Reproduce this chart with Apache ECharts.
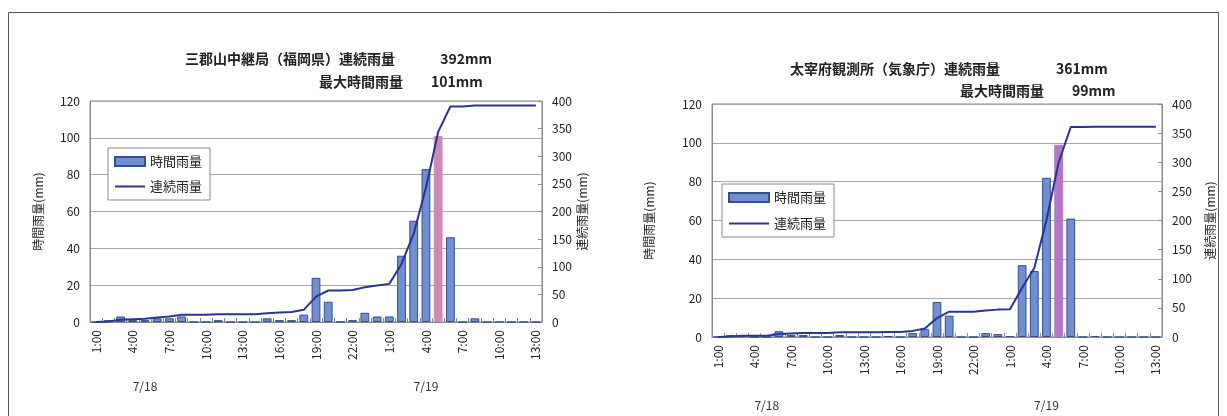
<!DOCTYPE html>
<html>
<head>
<meta charset="utf-8">
<script src="https://cdn.jsdelivr.net/npm/echarts@6/dist/echarts.min.js"></script>
<style>
  html, body { margin: 0; padding: 0; background: #fff; }
  #chart { width: 1227px; height: 416px; }
</style>
</head>
<body>
<div id="chart"></div>
<script>
// Hourly categories: 7/18 1:00 .. 24:00, then 7/19 1:00 .. 13:00
const hours = [
  '1:00','2:00','3:00','4:00','5:00','6:00','7:00','8:00','9:00','10:00','11:00','12:00',
  '13:00','14:00','15:00','16:00','17:00','18:00','19:00','20:00','21:00','22:00','23:00','24:00',
  '1:00','2:00','3:00','4:00','5:00','6:00','7:00','8:00','9:00','10:00','11:00','12:00','13:00'
];

// 三郡山中継局 (mm)
const sangunHourly = [0,1,3,1,1,2,2,3,0,0,1,0,0,0,2,1,1,4,24,11,0,1,5,3,3,36,55,83,101,46,0,2,0,0,0,0,0];
const sangunTotal  = [0,1,4,5,6,8,10,13,13,13,14,14,14,14,16,17,18,22,46,57,57,58,63,66,69,105,160,243,344,390,390,392,392,392,392,392,392];

// 太宰府観測所 (mm)
const dazaifuHourly = [0,1,1,0,0,3,1,1,0,0,1,0,0,0,0.5,0,2,4,18,11,0,0,2,1.5,0.5,37,34,82,99,61,0,0.5,0,0,0,0,0];
const dazaifuTotal  = [0,1,2,2,2,5,6,7,7,7,8,8,8,8,8.5,8.5,10.5,14.5,32.5,43.5,43.5,43.5,45.5,47,47.5,84.5,118.5,200.5,299.5,360.5,360.5,361,361,361,361,361,361];

// Day captions under the hour labels, and the category each one sits under
const dayLabels = ['7/18', '7/19'];
const dayLabelIndex = [4, 27];

const FONT = '"Noto Sans CJK JP", "Noto Sans", sans-serif';
const BAR = '#6f8fd0';
const BAR_EDGE = '#34508c';
const LINE = '#2a3590';
const GRID_LINE = '#a8a8a8';

function barData(values, peakColor) {
  const peak = values.indexOf(Math.max(...values));
  return values.map((v, i) => i === peak
    ? { value: v, itemStyle: { color: peakColor, borderColor: peakColor } }
    : v);
}

function hourAxis(gridIndex) {
  return {
    type: 'category', gridIndex, data: hours, boundaryGap: true,
    axisLine: { show: true, lineStyle: { color: '#8a8a8a' } },
    axisTick: { show: true, inside: true, interval: 0, length: 4, lineStyle: { color: '#8a8a8a' } },
    axisLabel: { interval: 2, rotate: 90, fontSize: 12, color: '#222', fontFamily: FONT, margin: 8 },
    splitLine: { show: false }
  };
}

function dayAxis(gridIndex, offset) {
  return {
    type: 'category', gridIndex, data: hours, position: 'bottom', offset,
    axisLine: { show: false }, axisTick: { show: false }, splitLine: { show: false },
    axisLabel: {
      interval: 0, fontSize: 12, color: '#333', fontFamily: FONT,
      formatter: (v, i) => {
        const k = dayLabelIndex.indexOf(i);
        return k >= 0 ? dayLabels[k] : '';
      }
    }
  };
}

function leftAxis(gridIndex, nameGap) {
  return {
    type: 'value', gridIndex, min: 0, max: 120, interval: 20, position: 'left',
    name: '時間雨量(mm)', nameLocation: 'middle', nameRotate: 90, nameGap,
    nameTextStyle: { fontSize: 12, color: '#222', fontFamily: FONT },
    axisLine: { show: true, lineStyle: { color: '#8a8a8a' } },
    axisTick: { show: false },
    axisLabel: { fontSize: 12, color: '#222', fontFamily: FONT, margin: 10 },
    splitLine: { show: true, lineStyle: { color: GRID_LINE, width: 1 } }
  };
}

function rightAxis(gridIndex, nameGap) {
  return {
    type: 'value', gridIndex, min: 0, max: 400, interval: 50, position: 'right',
    name: '連続雨量(mm)', nameLocation: 'middle', nameRotate: 90, nameGap,
    nameTextStyle: { fontSize: 12, color: '#222', fontFamily: FONT },
    axisLine: { show: true, lineStyle: { color: '#8a8a8a' } },
    axisTick: { show: true, inside: true, length: 4, lineStyle: { color: '#8a8a8a' } },
    axisLabel: { fontSize: 12, color: '#222', fontFamily: FONT, margin: 10 },
    splitLine: { show: false }
  };
}

function legend(left, top, itemWidth, itemGap) {
  return {
    left, top, orient: 'vertical', itemWidth, itemHeight: 9, itemGap,
    padding: [7, 8, 7, 6],
    backgroundColor: '#fff', borderColor: '#8a8a8a', borderWidth: 1,
    textStyle: { fontSize: 13, color: '#222', fontFamily: FONT },
    data: [
      { name: '時間雨量', icon: 'rect' },
      { name: '連続雨量', itemStyle: { opacity: 0 } }
    ],
    selectedMode: false
  };
}

const titleStyle = { fontSize: 14, fontWeight: 'bold', color: '#222', fontFamily: FONT };

const option = {
  backgroundColor: '#fff',
  animation: false,
  title: [
    { text: '三郡山中継局（福岡県）連続雨量　　　 392mm', left: 185, top: 52, padding: 0, textStyle: titleStyle },
    { text: '最大時間雨量　　101mm', left: 319, top: 75, padding: 0, textStyle: titleStyle },
    { text: '太宰府観測所（気象庁）連続雨量　　　　361mm', left: 790, top: 62, padding: 0, textStyle: titleStyle },
    { text: '最大時間雨量　　99mm', left: 960, top: 84, padding: 0, textStyle: titleStyle }
  ],
  legend: [legend(108, 148, 30, 12), legend(722, 184, 40, 13)],
  grid: [
    { left: 90, right: 685, top: 101, bottom: 94, show: true, borderColor: '#8a8a8a', borderWidth: 1 },
    { left: 712, right: 65, top: 104, bottom: 79, show: true, borderColor: '#8a8a8a', borderWidth: 1 }
  ],
  xAxis: [hourAxis(0), dayAxis(0, 50), hourAxis(1), dayAxis(1, 54)],
  yAxis: [leftAxis(0, 46), rightAxis(0, 34), leftAxis(1, 57), rightAxis(1, 42)],
  series: [
    {
      name: '時間雨量', type: 'bar', xAxisIndex: 0, yAxisIndex: 0,
      data: barData(sangunHourly, '#cc8ab4'), barCategoryGap: '28%',
      itemStyle: { color: BAR, borderColor: BAR_EDGE, borderWidth: 1 }
    },
    {
      name: '連続雨量', type: 'line', xAxisIndex: 0, yAxisIndex: 1,
      data: sangunTotal, symbol: 'none', lineStyle: { color: LINE, width: 2 }, itemStyle: { color: LINE }
    },
    {
      name: '時間雨量', type: 'bar', xAxisIndex: 2, yAxisIndex: 2,
      data: barData(dazaifuHourly, '#b27ac4'), barCategoryGap: '28%',
      itemStyle: { color: BAR, borderColor: BAR_EDGE, borderWidth: 1 }
    },
    {
      name: '連続雨量', type: 'line', xAxisIndex: 2, yAxisIndex: 3,
      data: dazaifuTotal, symbol: 'none', lineStyle: { color: LINE, width: 2 }, itemStyle: { color: LINE }
    }
  ],
  graphic: [
    {
      type: 'rect', silent: true, z: -1,
      shape: { x: 8.5, y: 12.5, width: 1210, height: 420 },
      style: { fill: 'none', stroke: '#555', lineWidth: 1 }
    }
  ]
};

const chart = echarts.init(document.getElementById('chart'), null, { renderer: 'canvas' });
chart.setOption(option);
</script>
</body>
</html>
